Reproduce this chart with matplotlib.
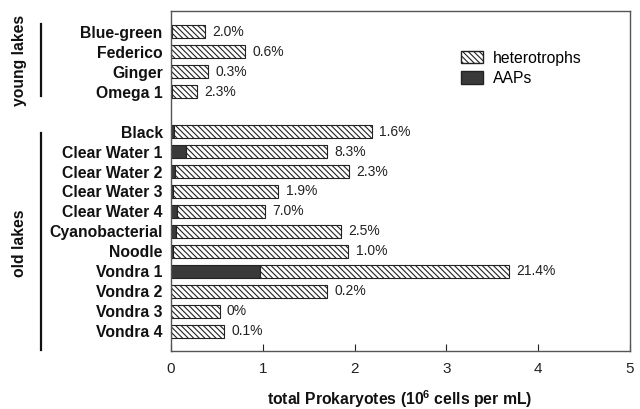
import matplotlib
matplotlib.use("Agg")
import matplotlib.pyplot as plt
from matplotlib.patches import Patch

plt.rcParams['font.family'] = ['Liberation Sans', 'DejaVu Sans']
plt.rcParams['hatch.linewidth'] = 0.8
plt.rcParams['mathtext.fontset'] = 'custom'
plt.rcParams['mathtext.rm'] = 'Liberation Sans:bold'
plt.rcParams['mathtext.bf'] = 'Liberation Sans:bold'
plt.rcParams['mathtext.default'] = 'rm'

lakes = ["Blue-green", "Federico", "Ginger", "Omega 1",
         "Black", "Clear Water 1", "Clear Water 2", "Clear Water 3",
         "Clear Water 4", "Cyanobacterial", "Noodle", "Vondra 1",
         "Vondra 2", "Vondra 3", "Vondra 4"]
total = [0.37, 0.81, 0.40, 0.28,
         2.19, 1.70, 1.94, 1.17, 1.02, 1.85, 1.93, 3.68, 1.70, 0.53, 0.58]
aaps = [0.007, 0.005, 0.001, 0.006,
        0.03, 0.16, 0.045, 0.02, 0.07, 0.05, 0.02, 0.97, 0.004, 0.0, 0.001]
pct_labels = ["2.0%", "0.6%", "0.3%", "2.3%",
              "1.6%", "8.3%", "2.3%", "1.9%", "7.0%", "2.5%", "1.0%",
              "21.4%", "0.2%", "0%", "0.1%"]
groups = ["young lakes", "old lakes"]
n_young = 4

ypos = [i if i < n_young else i + 1 for i in range(len(lakes))]
hetero = [t - a for t, a in zip(total, aaps)]

fig = plt.figure(figsize=(6.4, 4.09), dpi=100)
ax = fig.add_axes([171/640, 1 - 351/409, (630-171)/640, (351-11)/409])

dark = '#3a3a3a'
h = 0.65
ax.barh(ypos, aaps, height=h, color=dark, edgecolor='#222222', linewidth=0.8)
ax.barh(ypos, hetero, left=aaps, height=h, color='white', edgecolor='#222222',
        hatch='\\\\\\\\\\\\', linewidth=0.8)

for y, t, lab in zip(ypos, total, pct_labels):
    ax.text(t + 0.08, y, lab, va='center', ha='left', fontsize=10, color='#222222')

ax.set_xlim(0, 5)
ax.set_ylim(16, -1.05)
ax.set_yticks(ypos)
ax.set_yticklabels(lakes, fontsize=11.3, fontweight='bold', color='#111111')
ax.tick_params(axis='y', length=0, pad=6)
ax.set_xticks([0, 1, 2, 3, 4, 5])
ax.tick_params(axis='x', direction='in', length=5, labelsize=11, pad=8,
               colors='#222222', labelcolor='#222222')
for s in ax.spines.values():
    s.set_color('#555555')
    s.set_linewidth(1.0)

fig.text(400/640, 1 - 399/409, r'total Prokaryotes (10$^{6}$ cells per mL)',
         fontsize=11.3, fontweight='bold', color='#111111', ha='center', va='center')

handles = [Patch(facecolor='white', edgecolor='#222222', hatch='\\\\\\\\\\\\', label='heterotrophs'),
           Patch(facecolor=dark, edgecolor='#222222', label='AAPs')]
ax.legend(handles=handles, loc='upper left', bbox_to_anchor=(0.6, 0.925),
          frameon=False, fontsize=11.3, handlelength=1.45, handleheight=0.85,
          labelspacing=0.35, handletextpad=0.6)

# group labels and bars
fig.add_artist(plt.Line2D([41/640, 41/640], [1 - 24/409, 1 - 96/409],
                          color='#111111', linewidth=1.6))
fig.add_artist(plt.Line2D([41/640, 41/640], [1 - 133/409, 1 - 350/409],
                          color='#111111', linewidth=1.6))
fig.text(20/640, 1 - 60/409, groups[0], rotation=90, ha='center', va='center',
         fontsize=11.3, fontweight='bold', color='#111111')
fig.text(20/640, 1 - 243/409, groups[1], rotation=90, ha='center', va='center',
         fontsize=11.3, fontweight='bold', color='#111111')

fig.savefig('out.png', dpi=100)
